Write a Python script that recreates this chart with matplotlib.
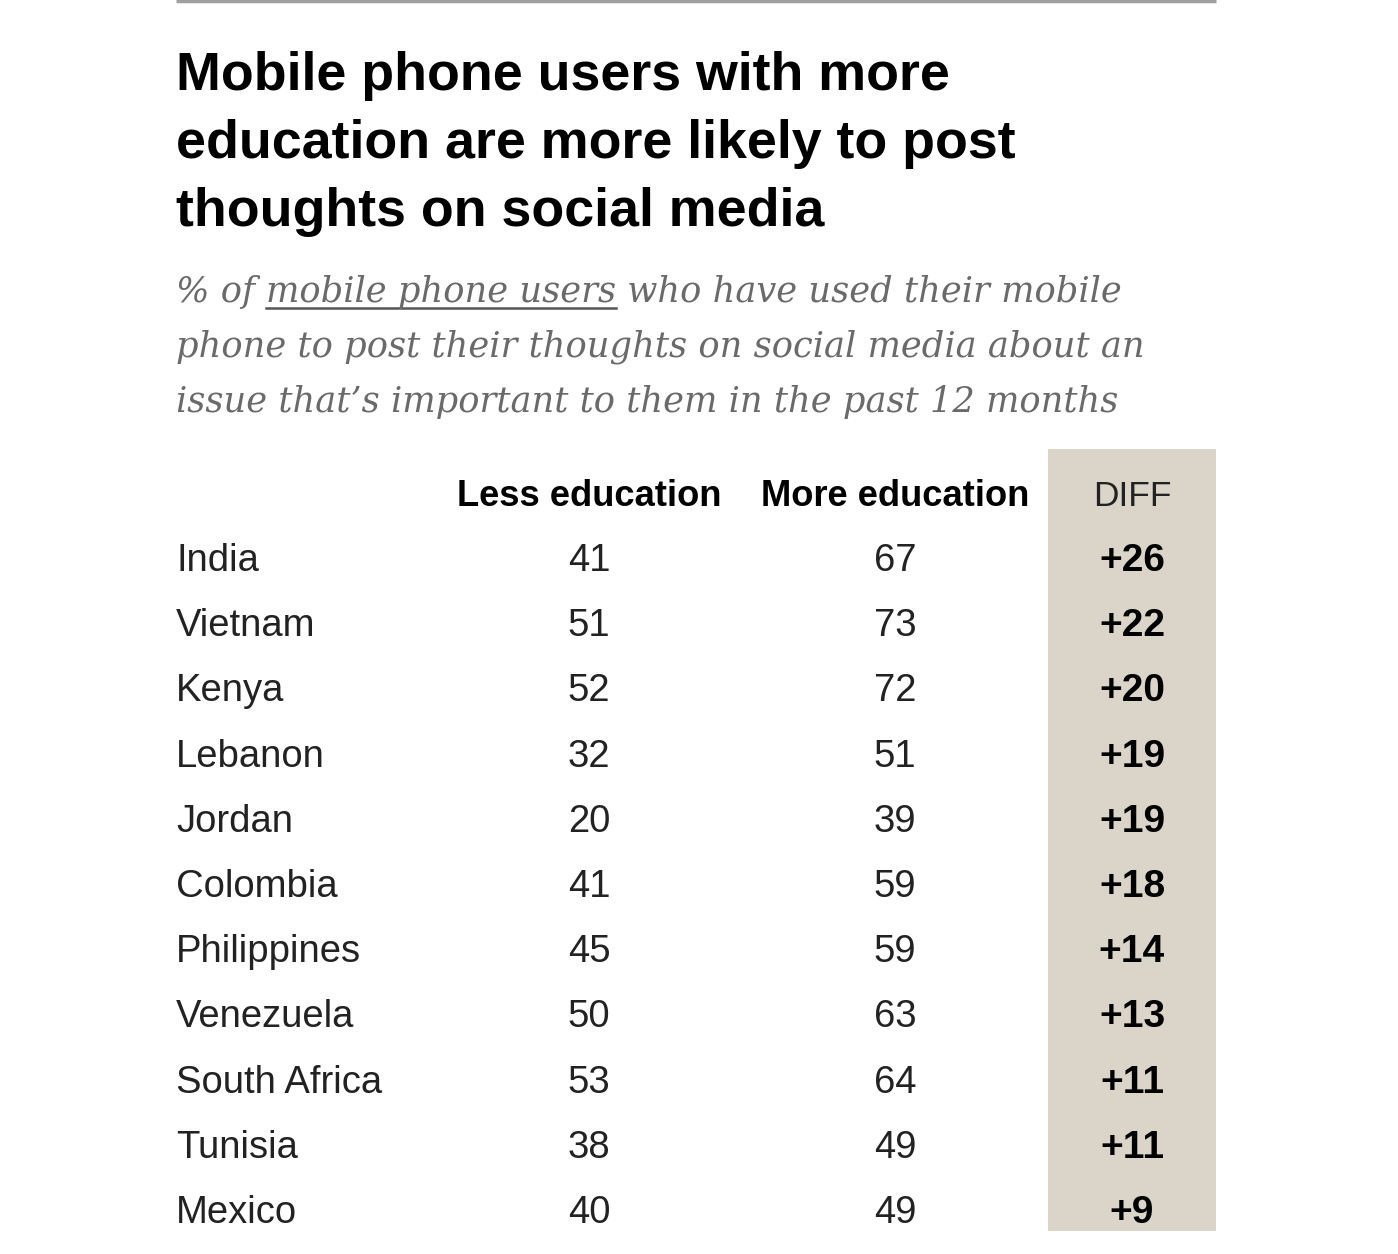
import matplotlib
matplotlib.use("Agg")
import matplotlib.pyplot as plt
from matplotlib.patches import Rectangle

countries = ["India", "Vietnam", "Kenya", "Lebanon", "Jordan", "Colombia",
             "Philippines", "Venezuela", "South Africa", "Tunisia", "Mexico"]
less_edu = [41, 51, 52, 32, 20, 41, 45, 50, 53, 38, 40]
more_edu = [67, 73, 72, 51, 39, 59, 59, 63, 64, 49, 49]
diffs = [m - l for l, m in zip(less_edu, more_edu)]

title_lines = ["Mobile phone users with more",
               "education are more likely to post",
               "thoughts on social media"]
sub_pre = "% of "
sub_link = "mobile phone users"
sub_lines = [" who have used their mobile",
             "phone to post their thoughts on social media about an",
             "issue that\u2019s important to them in the past 12 months"]

W, H = 1398, 1254
fig = plt.figure(figsize=(W / 100, H / 100), dpi=100)
ax = fig.add_axes([0, 0, 1, 1])
ax.set_xlim(0, W)
# y in row units: baseline of row i sits at pixel 571 + 65.2*i
y0, dy = 571, 65.2
ax.set_ylim((H - y0) / dy, -y0 / dy)
ax.axis("off")

def py(p):
    return (p - y0) / dy

# top rule
ax.plot([176, 1216], [py(1), py(1)], color="#a0a0a0", lw=2.5, solid_capstyle="butt")

for k, line in enumerate(title_lines):
    ax.text(176, py(90 + 68 * k), line, fontsize=38.7, fontweight="bold",
            family="Liberation Sans", va="baseline", ha="left", color="#000000")

sub_kw = dict(fontsize=25.4, style="italic", family="DejaVu Serif", color="#6a6a6a",
              va="baseline", ha="left")
base1 = 302
t_pre = ax.text(176, py(base1), sub_pre, **sub_kw)
fig.canvas.draw()
r = fig.canvas.get_renderer()
x1 = t_pre.get_window_extent(r).x1
t_link = ax.text(x1, py(base1), sub_link, **sub_kw)
fig.canvas.draw()
bb = t_link.get_window_extent(r)
ax.plot([bb.x0, bb.x1], [py(base1 + 6), py(base1 + 6)], color="#555555", lw=1.8)
ax.text(bb.x1, py(base1), sub_lines[0], **sub_kw)
for k, line in enumerate(sub_lines[1:], start=1):
    ax.text(176, py(base1 + 55 * k), line, **sub_kw)

# diff column background
ax.add_patch(Rectangle((1048, py(449)), 168, py(1231) - py(449), color="#dad5c8", lw=0))

hdr_kw = dict(fontsize=26.2, fontweight="bold", family="Liberation Sans",
              ha="center", va="baseline", color="#000000")
ax.text(589, -1, "Less education", **hdr_kw)
ax.text(895, -1, "More education", **hdr_kw)
ax.text(1132, -1, "DIFF", fontsize=25.5, family="Liberation Sans",
        ha="center", va="baseline", color="#222222")

body_kw = dict(fontsize=27.5, family="Liberation Sans", va="baseline", color="#222222")
for i, (c, l, m, d) in enumerate(zip(countries, less_edu, more_edu, diffs)):
    ax.text(176, i, c, ha="left", **body_kw)
    ax.text(589, i, str(l), ha="center", **body_kw)
    ax.text(895, i, str(m), ha="center", **body_kw)
    ax.text(1132, i, f"+{d}", fontsize=28, fontweight="bold",
            family="Liberation Sans", ha="center", va="baseline", color="#000000")

fig.savefig("out.png", dpi=100, facecolor="white")
